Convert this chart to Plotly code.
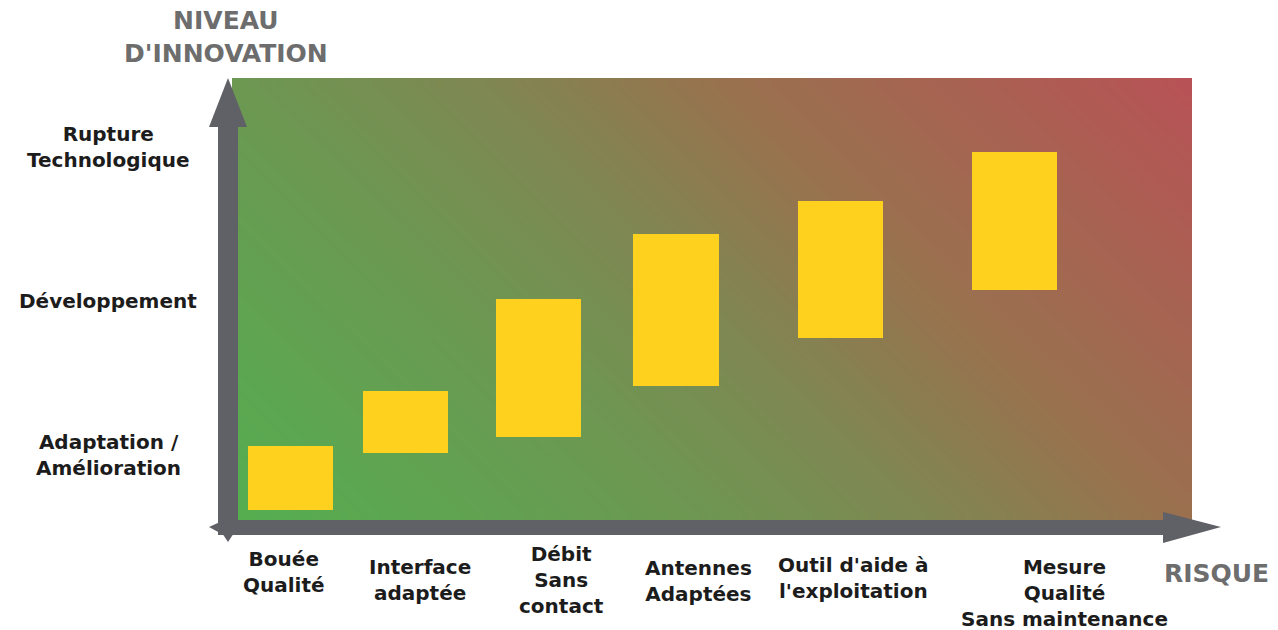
import numpy as np
import plotly.graph_objects as go

# ---------------- data ----------------
projects = ["Bouée<br>Qualité", "Interface<br>adaptée", "Débit<br>Sans<br>contact",
            "Antennes<br>Adaptées", "Outil d'aide à<br>l'exploitation",
            "Mesure<br>Qualité<br>Sans maintenance"]
risk = [1.0, 2.21, 3.61, 5.06, 6.79, 8.62]            # position on the risk axis
innov_low = [0.643, 1.013, 1.117, 1.448, 1.760, 2.071]  # bottom of innovation band
innov_high = [1.058, 1.416, 2.013, 2.435, 2.649, 2.968] # top of innovation band
level_vals = [1, 2, 3]
level_labels = ["Adaptation /<br>Amélioration", "Développement", "Rupture<br>Technologique"]

# ---------------- geometry helpers (layout only) ----------------
W, H = 1278, 630
X_RANGE = [1 - 290.5 / 95, 1 + (W - 290.5) / 95]
Y_RANGE = [1 - (H - 455) / 154, 1 + 455 / 154]

def px2x(px):
    return X_RANGE[0] + px / W * (X_RANGE[1] - X_RANGE[0])

def py2y(py):
    return Y_RANGE[1] - py / H * (Y_RANGE[1] - Y_RANGE[0])

def pX(px):
    return px / W

def pY(py):
    return 1 - py / H

fig = go.Figure()

# ---------------- gradient background ----------------
nx, ny = 80, 40
gx0, gx1 = px2x(232), px2x(1192)
gy0, gy1 = py2y(520), py2y(78)
dx = (gx1 - gx0) / nx
dy = (gy1 - gy0) / ny
xn = (np.arange(nx) + 0.5) / nx
yn = (np.arange(ny) + 0.5) / ny
Z = 0.68 * xn[None, :] + 0.32 * yn[:, None]
fig.add_trace(go.Heatmap(
    z=Z, x0=gx0 + dx / 2, dx=dx, y0=gy0 + dy / 2, dy=dy,
    zmin=0, zmax=1, zsmooth="best", showscale=False, hoverinfo="skip",
    colorscale=[[0.0, "rgb(84,174,80)"], [0.32, "rgb(108,152,82)"],
                [0.5, "rgb(128,134,82)"], [0.66, "rgb(152,114,78)"],
                [1.0, "rgb(184,82,86)"]],
))

# ---------------- bars ----------------
fig.add_trace(go.Bar(
    x=risk,
    y=[h - l for h, l in zip(innov_high, innov_low)],
    base=innov_low,
    width=0.9,
    marker=dict(color="#FDD11E", line=dict(width=0)),
    hoverinfo="skip",
))

# ---------------- axis arrows ----------------
ARROW = "#606067"
shapes = []
# vertical
shapes.append(dict(type="rect", xref="paper", yref="paper",
                   x0=pX(218), x1=pX(238), y0=pY(535), y1=pY(125),
                   fillcolor=ARROW, line=dict(width=0), layer="above"))
shapes.append(dict(type="path", xref="paper", yref="paper",
                   path=f"M {pX(209)} {pY(127)} L {pX(247)} {pY(127)} L {pX(228)} {pY(78)} Z",
                   fillcolor=ARROW, line=dict(width=0), layer="above"))
# horizontal
shapes.append(dict(type="rect", xref="paper", yref="paper",
                   x0=pX(218), x1=pX(1165), y0=pY(535), y1=pY(520),
                   fillcolor=ARROW, line=dict(width=0), layer="above"))
shapes.append(dict(type="path", xref="paper", yref="paper",
                   path=f"M {pX(1163)} {pY(512)} L {pX(1163)} {pY(543)} L {pX(1221)} {pY(527)} Z",
                   fillcolor=ARROW, line=dict(width=0), layer="above"))
# tail spikes at the origin
shapes.append(dict(type="path", xref="paper", yref="paper",
                   path=f"M {pX(209)} {pY(527)} L {pX(220)} {pY(522)} L {pX(220)} {pY(533)} Z",
                   fillcolor=ARROW, line=dict(width=0), layer="above"))
shapes.append(dict(type="path", xref="paper", yref="paper",
                   path=f"M {pX(228)} {pY(542)} L {pX(222)} {pY(533)} L {pX(234)} {pY(533)} Z",
                   fillcolor=ARROW, line=dict(width=0), layer="above"))

FONT = "DejaVu Sans"
annotations = []
# axis titles
annotations.append(dict(text="<b>NIVEAU<br>D'INNOVATION</b>", xref="paper", yref="paper",
                        x=pX(226), y=pY(37), xanchor="center", yanchor="middle",
                        showarrow=False, align="center",
                        font=dict(family=FONT, size=25, color="#6d6d6d")))
annotations.append(dict(text="<b>RISQUE</b>", xref="paper", yref="paper",
                        x=pX(1216), y=pY(573), xanchor="center", yanchor="middle",
                        showarrow=False,
                        font=dict(family=FONT, size=25, color="#6d6d6d")))
# level labels
for v, lab in zip(level_vals, level_labels):
    annotations.append(dict(text=f"<b>{lab}</b>", xref="paper", yref="y",
                            x=pX(108), y=v, xanchor="center", yanchor="middle",
                            showarrow=False, align="center",
                            font=dict(family=FONT, size=20, color="#1c1c1c")))
# project labels
label_shift = [-7, 15, 23, 22, 13, 50]
label_y = [572, 580, 580, 581, 578, 593]
for r, lab, sh, ly in zip(risk, projects, label_shift, label_y):
    annotations.append(dict(text=f"<b>{lab}</b>", xref="x", yref="paper",
                            x=r, xshift=sh, y=pY(ly), xanchor="center", yanchor="middle",
                            showarrow=False, align="center",
                            font=dict(family=FONT, size=20, color="#1c1c1c")))

fig.update_layout(
    width=W, height=H,
    margin=dict(l=0, r=0, t=0, b=0),
    paper_bgcolor="white", plot_bgcolor="white",
    showlegend=False,
    xaxis=dict(range=X_RANGE, visible=False, fixedrange=True),
    yaxis=dict(range=Y_RANGE, visible=False, fixedrange=True),
    shapes=shapes,
    annotations=annotations,
    bargap=0,
)

fig.write_html("out.html")
